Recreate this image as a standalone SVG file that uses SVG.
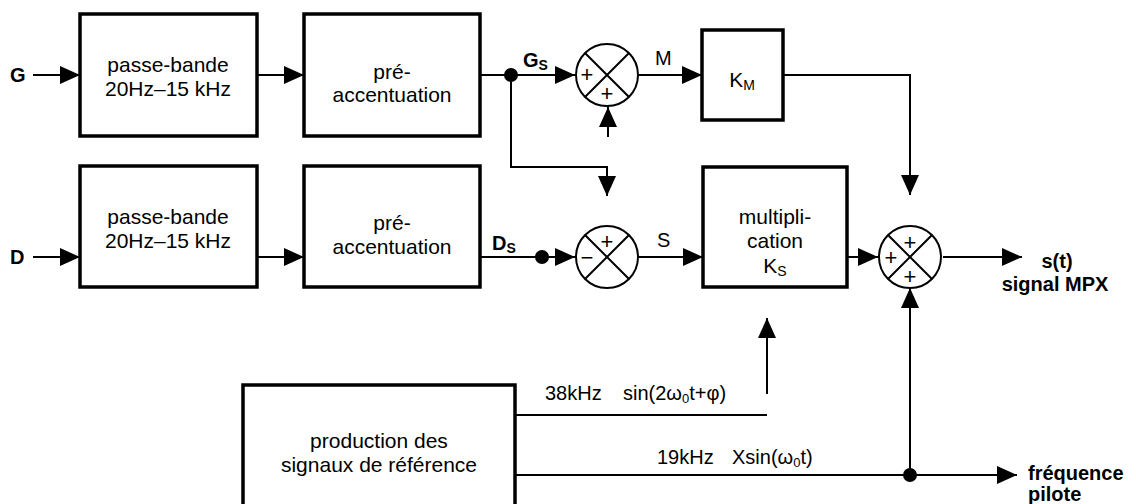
<svg xmlns="http://www.w3.org/2000/svg" width="1136" height="504" viewBox="0 0 1136 504">
<defs>
<marker id="ah" viewBox="0 0 20 18" refX="20" refY="9" markerWidth="20" markerHeight="18" markerUnits="userSpaceOnUse" orient="auto">
<path d="M0,0 L20,9 L0,18 z" fill="#000"/>
</marker>
</defs>
<style>
text{font-family:"Liberation Sans",Arial,sans-serif;fill:#000}
.box{fill:#fff;stroke:#000;stroke-width:3.5}
.sum{fill:#fff;stroke:#000;stroke-width:2}
.x{stroke:#000;stroke-width:2}
.c{fill:none;stroke:#000;stroke-width:2}
.a{fill:none;stroke:#000;stroke-width:2;marker-end:url(#ah)}
.t{font-size:21px;text-anchor:middle}
.l{font-size:20px}
.b{font-size:20px;font-weight:bold}
.sg{font-size:22px;text-anchor:middle}
.dot{fill:#000}
</style>
<rect width="1136" height="504" fill="#fff"/>

<g id="connectors">
<path class="a" d="M33,75 H80"/>
<path class="a" d="M33,257 H80"/>
<path class="a" d="M257,75 H304"/>
<path class="a" d="M257,257 H304"/>
<path class="a" d="M480,75 H575"/>
<path class="a" d="M511,75 V167 H607 V196"/>
<path class="a" d="M608,137 V107"/>
<path class="a" d="M639,75 H702"/>
<path class="a" d="M783,75 H910 V195"/>
<path class="c" d="M480,257 H542"/>
<path class="a" d="M542,257 H575"/>
<path class="a" d="M639,257 H703"/>
<path class="a" d="M847,257 H878"/>
<path class="a" d="M943,257 H1022"/>
<path class="a" d="M767,394 V318"/>
<path class="c" d="M510,415 H767"/>
<path class="a" d="M515,475 H1017"/>
<path class="a" d="M910,475 V288"/>
<circle class="dot" cx="511" cy="75" r="7"/>
<circle class="dot" cx="542" cy="257" r="7"/>
<circle class="dot" cx="910" cy="475" r="7"/>
</g>

<g id="labels">
<text class="b" x="10" y="82">G</text>
<text class="b" x="10" y="264">D</text>
<text class="b" x="523" y="67">G<tspan font-size="14" dy="3">S</tspan></text>
<text class="b" x="492" y="250">D<tspan font-size="14" dy="3">S</tspan></text>
<text class="l" x="655" y="65">M</text>
<text class="l" x="657" y="247">S</text>
<text class="b" x="1057" y="268" text-anchor="middle">s(t)</text>
<text class="b" x="1055" y="291" text-anchor="middle">signal MPX</text>
<text class="b" x="1028" y="480">fréquence</text>
<text class="b" x="1028" y="501">pilote</text>
<text class="l" x="545" y="400">38kHz</text>
<text class="l" x="623" y="400">sin(2ω<tspan font-size="13" dy="3">0</tspan><tspan dy="-3">t+φ)</tspan></text>
<text class="l" x="657" y="464">19kHz</text>
<text class="l" x="732" y="464">Xsin(ω<tspan font-size="13" dy="3">0</tspan><tspan dy="-3">t)</tspan></text>
</g>

<g id="bp-g">
<rect class="box" x="80" y="14" width="177" height="122"/>
<text class="t" x="168" y="72">passe-bande</text>
<text class="t" x="168" y="96">20Hz–15 kHz</text>
</g>
<g id="pre-g">
<rect class="box" x="304" y="14" width="176" height="122"/>
<text class="t" x="392" y="79">pré-</text>
<text class="t" x="392" y="102">accentuation</text>
</g>
<g id="bp-d">
<rect class="box" x="80" y="166" width="177" height="121"/>
<text class="t" x="168" y="224">passe-bande</text>
<text class="t" x="168" y="248">20Hz–15 kHz</text>
</g>
<g id="pre-d">
<rect class="box" x="304" y="166" width="176" height="121"/>
<text class="t" x="392" y="230">pré-</text>
<text class="t" x="392" y="254">accentuation</text>
</g>
<g id="km">
<rect class="box" x="702" y="30" width="81" height="90"/>
<text class="t" x="742" y="87">K<tspan font-size="14" dy="3">M</tspan></text>
</g>
<g id="mult">
<rect class="box" x="703" y="167" width="144" height="120"/>
<text class="t" x="775" y="224">multipli-</text>
<text class="t" x="775" y="248">cation</text>
<text class="t" x="775" y="273">K<tspan font-size="14" dy="3">S</tspan></text>
</g>
<g id="prod">
<rect class="box" x="243" y="385" width="272" height="140"/>
<text class="t" x="379" y="448">production des</text>
<text class="t" x="379" y="472">signaux de référence</text>
</g>
<g id="sum-m">
<circle class="sum" cx="607" cy="75" r="31"/>
<path class="x" d="M585,53 L629,97 M629,53 L585,97"/>
<text class="sg" x="587" y="82">+</text>
<text class="sg" x="607" y="101">+</text>
</g>
<g id="sum-s">
<circle class="sum" cx="607" cy="257" r="31"/>
<path class="x" d="M585,235 L629,279 M629,235 L585,279"/>
<text class="sg" x="607" y="249">+</text>
<text class="sg" x="587" y="265">−</text>
</g>
<g id="sum-out">
<circle class="sum" cx="910" cy="257" r="31"/>
<path class="x" d="M888,235 L932,279 M932,235 L888,279"/>
<text class="sg" x="910" y="250">+</text>
<text class="sg" x="891" y="265">+</text>
<text class="sg" x="910" y="284">+</text>
</g>
</svg>
